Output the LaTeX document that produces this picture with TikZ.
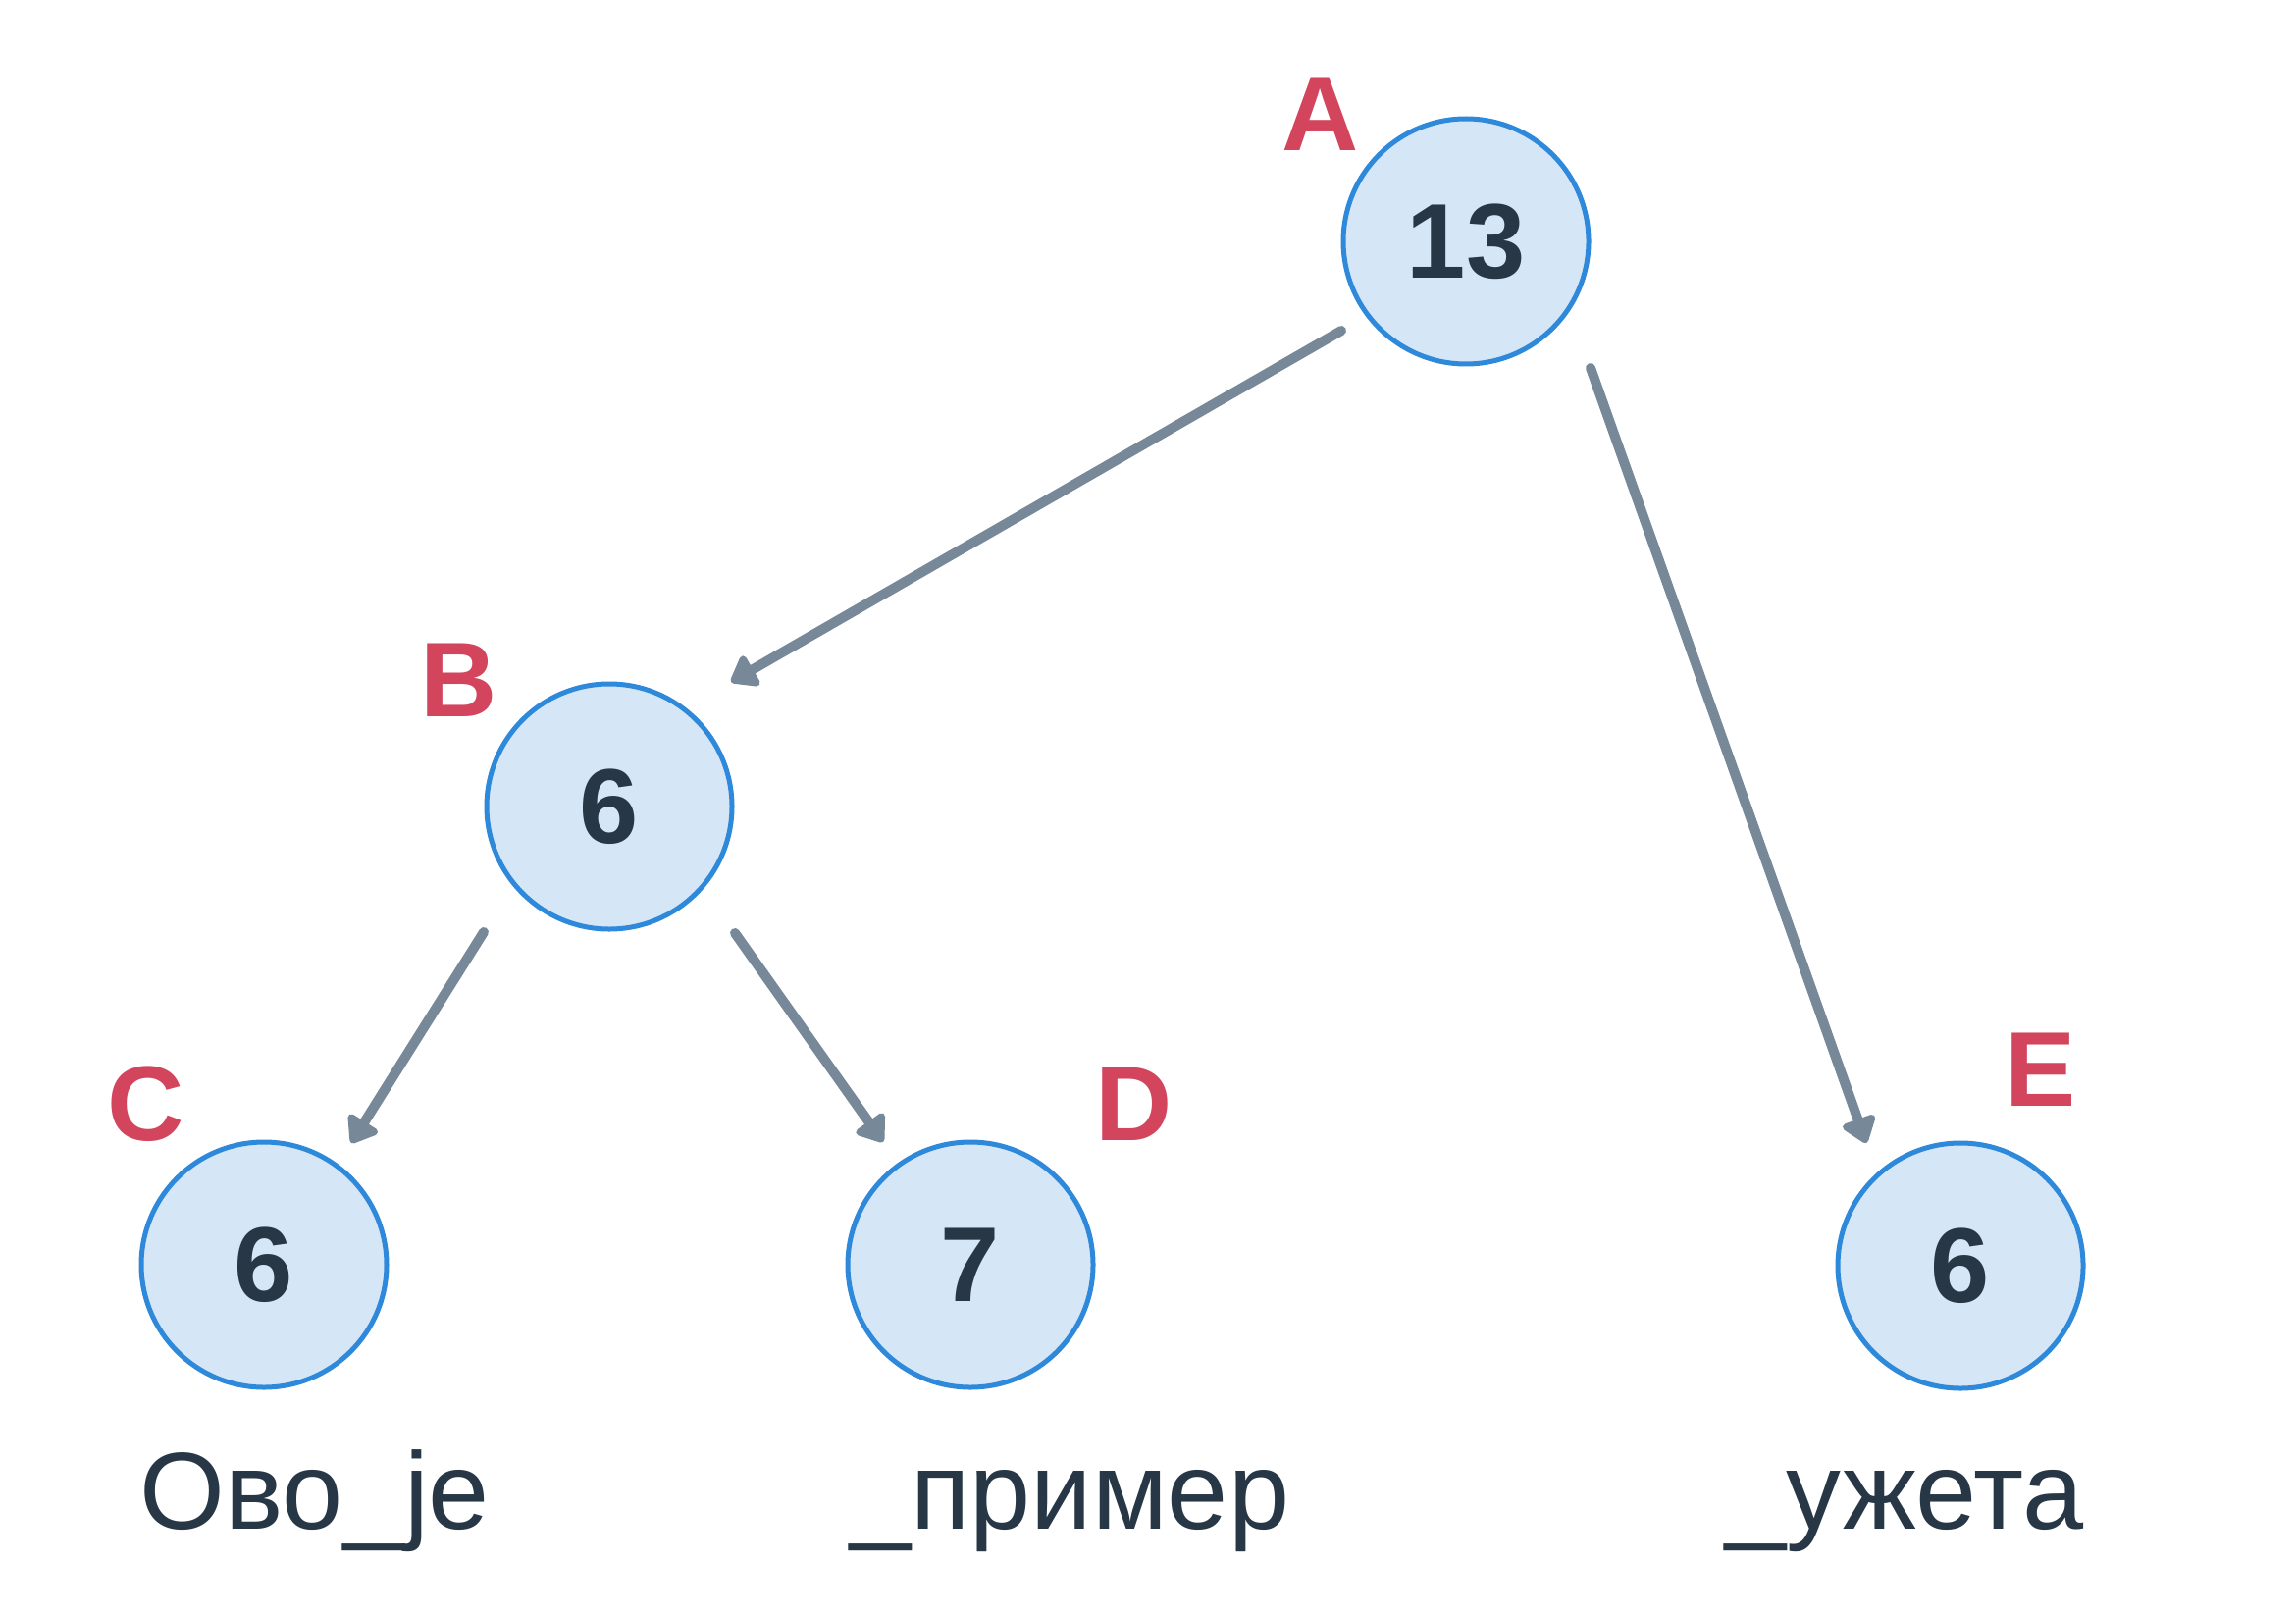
\documentclass[tikz,border=0pt]{standalone}
\usepackage{fontspec}
\setmainfont{Liberation Sans}
\usetikzlibrary{arrows.meta,calc}
\definecolor{nodefill}{HTML}{D5E6F6}
\definecolor{nodeedge}{HTML}{2E89DB}
\definecolor{tagred}{HTML}{D2455C}
\definecolor{textdark}{HTML}{273746}
\definecolor{arrowgrey}{HTML}{778899}
\begin{document}
\begin{tikzpicture}[x=0.3pt,y=-0.3pt,
  tnode/.style={circle, draw=nodeedge, fill=nodefill, line width=1.5pt, minimum size=75pt, inner sep=0pt,
    font=\fontsize{32.5}{36}\selectfont\bfseries, text=textdark},
  tag/.style={anchor=base, text=tagred, font=\fontsize{32.5}{36}\selectfont\bfseries, inner sep=0pt},
  word/.style={anchor=base, text=textdark, font=\fontsize{33.5}{36}\selectfont, inner sep=0pt},
  edge/.style={draw=arrowgrey, line width=3pt, line cap=round,
    -{Triangle[width=12pt,length=8.5pt,round]}}
]
\useasboundingbox (0,0) rectangle (2340,1644);
\node[tnode] (A) at (1494,246) {13};
\node[tnode] (B) at (621,822) {6};
\node[tnode] (C) at (269,1289) {6};
\node[tnode] (D) at (989,1289) {7};
\node[tnode] (E) at (1998,1290) {6};

\node[tag] (tA) at (1346,154) {A};
\node[tag] (tB) at (468,730) {B};
\node[tag] (tC) at (149,1162) {C};
\node[tag] (tD) at (1156,1162) {D};
\node[tag] (tE) at (2080,1127) {E};

\node[word] (wC) at (321,1558) {Ово\_је};
\node[word] (wD) at (1090,1558) {\_пример};
\node[word] (wE) at (1941,1558) {\_ужета};

\coordinate (ab1) at ($(A.center)+(-127,91)$);
\coordinate (ab2) at ($(B.center)+(124,-127)$);
\coordinate (ae1) at ($(A.center)+(127,129)$);
\coordinate (ae2) at ($(E.center)+(-96,-125)$);
\coordinate (bc1) at ($(B.center)+(-128,128)$);
\coordinate (bc2) at ($(C.center)+(89,-124)$);
\coordinate (bd1) at ($(B.center)+(128,129)$);
\coordinate (bd2) at ($(D.center)+(-89,-125)$);

\draw[edge] (ab1) -- (ab2);
\draw[edge] (ae1) -- (ae2);
\draw[edge] (bc1) -- (bc2);
\draw[edge] (bd1) -- (bd2);
\end{tikzpicture}
\end{document}
